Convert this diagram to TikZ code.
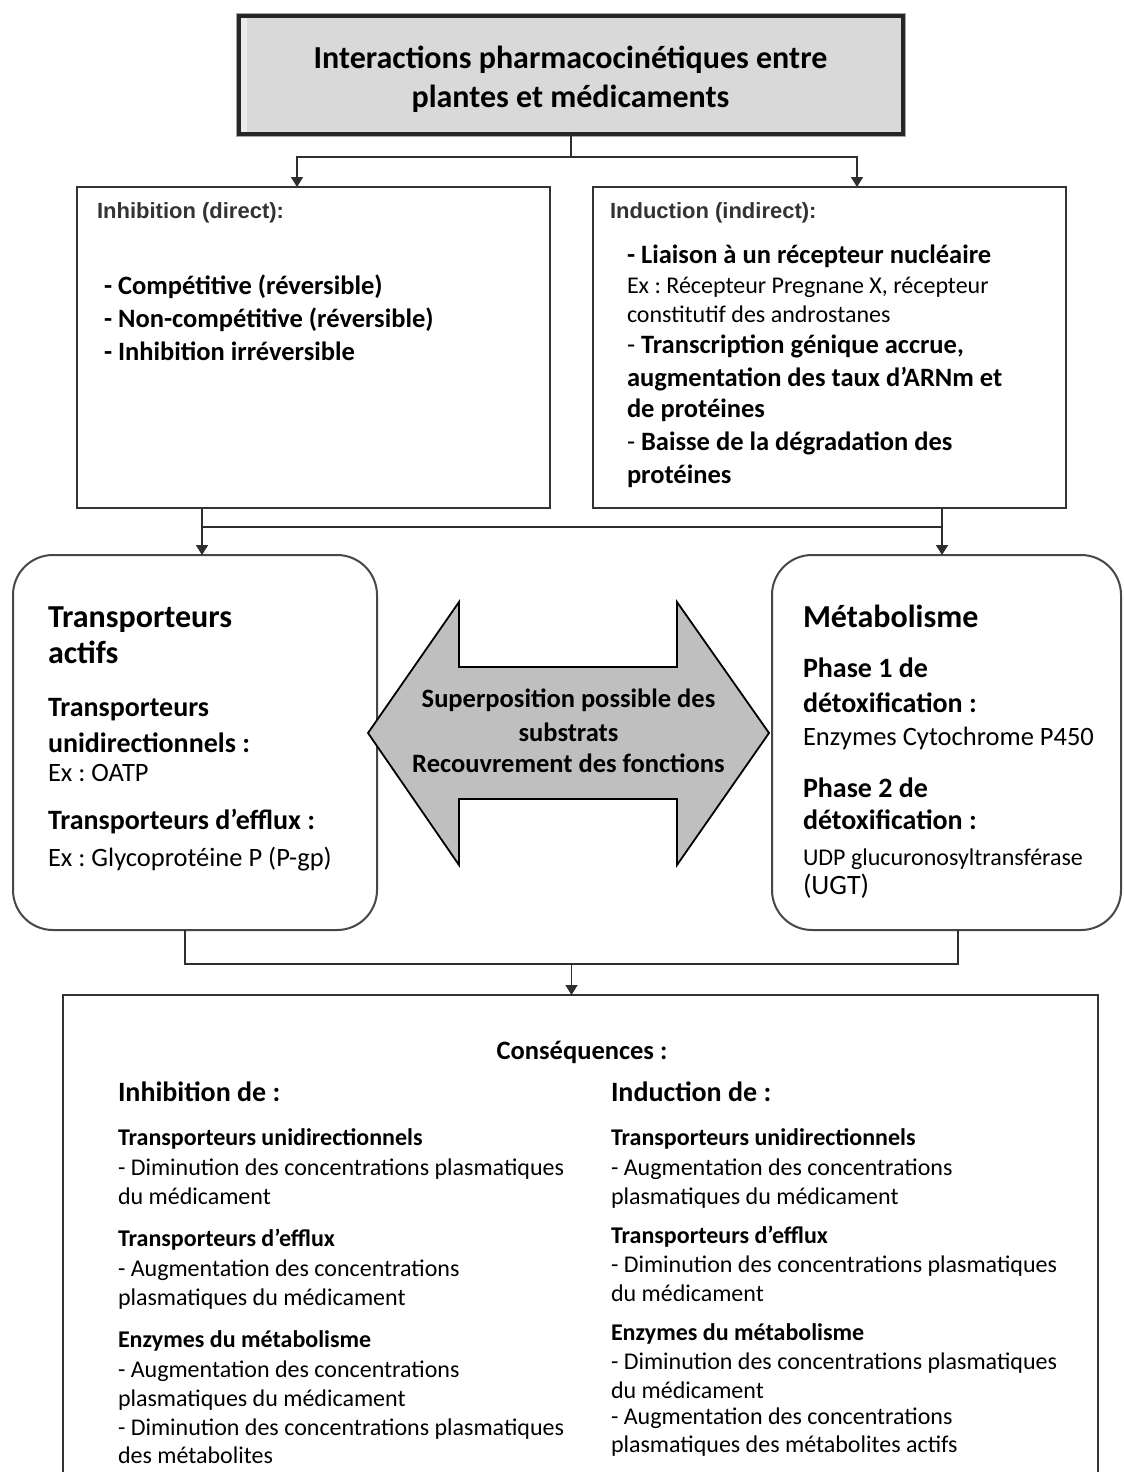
\documentclass[tikz,border=0pt]{standalone}
\usepackage{fontspec}
\setmainfont{Carlito}
\newfontfamily\arialf{Liberation Sans}
\usetikzlibrary{arrows.meta}
\frenchspacing
\begin{document}
\begin{tikzpicture}[x=1pt,y=-1pt,
  every node/.style={inner sep=0pt,outer sep=0pt},
  lt/.style={anchor=base west},
  ct/.style={anchor=base},
  b32/.style={font=\fontsize{32}{36}\selectfont\bfseries},
  b28/.style={font=\fontsize{28}{32}\selectfont\bfseries},
  b26/.style={font=\fontsize{26.5}{30}\selectfont\bfseries},
  b24/.style={font=\fontsize{24}{28}\selectfont\bfseries},
  r28/.style={font=\fontsize{28}{32}\selectfont},
  r26/.style={font=\fontsize{26.5}{30}\selectfont},
  r24/.style={font=\fontsize{24}{28}\selectfont},
  lab/.style={font=\arialf\fontsize{22}{25}\selectfont\bfseries,text=black!80},
  sqbox/.style={draw=black!80,line width=1.5pt,anchor=north west},
  rdbox/.style={draw=black!72,line width=2pt,rounded corners=40pt,anchor=north west},
  conn/.style={draw=black!82,line width=1.6pt},
  arr/.style={conn,-{Triangle[width=12pt,length=10pt]}}]
\useasboundingbox (0,0) rectangle (1124,1472);
\fill[white] (0,0) rectangle (1124,1472);

% title
\node[anchor=north west,minimum width=664.5pt,minimum height=117pt,fill=black!15,
      draw=black!85,line width=4pt,preaction={draw=black!35,line width=6pt}] (T) at (238.5,16.5) {};
\fill[black!8] (240.5,18.5) rectangle (247,131.5);
\node[ct,b32] (t1) at (570.5,68) {Interactions pharmacocinétiques entre};
\node[ct,b32] (t2) at (570.5,107) {plantes et médicaments};

% upper boxes
\node[sqbox,minimum width=473pt,minimum height=321pt] (inh) at (77,187) {};
\node[sqbox,minimum width=473pt,minimum height=321pt] (ind) at (593,187) {};

\coordinate (jl) at (297,157);
\coordinate (jr) at (857,157);
\draw[arr] (T.south) |- (jl) -- (jl |- inh.north);
\draw[arr] (T.south) |- (jr) -- (jr |- ind.north);

\node[lt,lab] (inhl) at (97,218) {Inhibition (direct):};
\node[lt,b26] (i1) at (104,294) {- Compétitive (réversible)};
\node[lt,b26] (i2) at (104,327) {- Non-compétitive (réversible)};
\node[lt,b26] (i3) at (104,360) {- Inhibition irréversible};

\node[lt,lab] (indl) at (610,218) {Induction (indirect):};
\node[lt,b26] (d1) at (627,263) {- Liaison à un récepteur nucléaire};
\node[lt,r24] (d2) at (627,293) {Ex : Récepteur Pregnane X, récepteur};
\node[lt,r24] (d3) at (627,322) {constitutif des androstanes};
\node[lt,r26] (d4) at (627,353) {- \textbf{Transcription génique accrue,}};
\node[lt,b26] (d5) at (627,386) {augmentation des taux d’ARNm et};
\node[lt,b26] (d6) at (627,417) {de protéines};
\node[lt,r26] (d7) at (627,450) {- \textbf{Baisse de la dégradation des}};
\node[lt,b26] (d8) at (627,483) {protéines};

% rounded boxes
\node[rdbox,minimum width=364pt,minimum height=375pt] (tra) at (13,555) {};
\node[rdbox,minimum width=349pt,minimum height=375pt] (met) at (772,555) {};

\coordinate (ml) at (202,527);
\coordinate (mr) at (942,527);
\draw[arr] (ml |- inh.south) -- (ml |- tra.north);
\draw[arr] (mr |- ind.south) -- (mr |- met.north);
\draw[conn] (ml) -- (mr);

\node[lt,b32] (a1) at (48,627) {Transporteurs};
\node[lt,b32] (a2) at (48,663) {actifs};
\node[lt,b28] (a3) at (48,716) {Transporteurs};
\node[lt,b28] (a4) at (48,752) {unidirectionnels :};
\node[lt,r26] (a5) at (48,781) {Ex : OATP};
\node[lt,b28] (a6) at (48,829) {Transporteurs d’efflux :};
\node[lt,r26] (a7) at (48,866) {Ex : Glycoprotéine P (P-gp)};

\node[lt,b32] (m1) at (803,627) {Métabolisme};
\node[lt,b28] (m2) at (803,677) {Phase 1 de};
\node[lt,b28] (m3) at (803,712) {détoxification :};
\node[lt,r26] (m4) at (803,745) {Enzymes Cytochrome P450};
\node[lt,b28] (m5) at (803,797) {Phase 2 de};
\node[lt,b28] (m6) at (803,829) {détoxification :};
\node[lt,r24] (m7) at (803,865) {UDP glucuronosyltransférase};
\node[lt,r28] (m8) at (803,894) {(UGT)};

% double arrow
\filldraw[fill=black!25,draw=black,line width=1.8pt,line join=miter]
  (368,733) -- (459,602) -- (459,667) -- (677,667) -- (677,602) -- (769,733)
  -- (677,865) -- (677,799) -- (459,799) -- (459,865) -- cycle;
\node[ct,b26] (s1) at (568.5,707) {Superposition possible des};
\node[ct,b26] (s2) at (568.5,741) {substrats};
\node[ct,b26] (s3) at (568.5,772) {Recouvrement des fonctions};

% bottom box
\node[sqbox,minimum width=1035pt,minimum height=495pt] (bot) at (63,995) {};
\coordinate (bl) at (185,964);
\coordinate (br) at (958,964);
\coordinate (bc) at (571.5,964);
\draw[conn] (bl |- tra.south) -- (bl) -- (br) -- (br |- met.south);
\draw[arr] (bc) -- (bc |- bot.north);

\node[ct,b26] (c0) at (582,1059) {Conséquences :};
\node[lt,b28] (cl0) at (118,1101) {Inhibition de :};
\node[lt,b24] (cl1) at (118,1145) {Transporteurs unidirectionnels};
\node[lt,r24] (cl2) at (118,1175) {- Diminution des concentrations plasmatiques};
\node[lt,r24] (cl3) at (118,1204) {du médicament};
\node[lt,b24] (cl4) at (118,1246) {Transporteurs d’efflux};
\node[lt,r24] (cl5) at (118,1276) {- Augmentation des concentrations};
\node[lt,r24] (cl6) at (118,1305) {plasmatiques du médicament};
\node[lt,b24] (cl7) at (118,1347) {Enzymes du métabolisme};
\node[lt,r24] (cl8) at (118,1377) {- Augmentation des concentrations};
\node[lt,r24] (cl9) at (118,1406) {plasmatiques du médicament};
\node[lt,r24] (cl10) at (118,1435) {- Diminution des concentrations plasmatiques};
\node[lt,r24] (cl11) at (118,1463) {des métabolites};

\node[lt,b28] (cr0) at (611,1101) {Induction de :};
\node[lt,b24] (cr1) at (611,1145) {Transporteurs unidirectionnels};
\node[lt,r24] (cr2) at (611,1175) {- Augmentation des concentrations};
\node[lt,r24] (cr3) at (611,1204) {plasmatiques du médicament};
\node[lt,b24] (cr4) at (611,1243) {Transporteurs d’efflux};
\node[lt,r24] (cr5) at (611,1272) {- Diminution des concentrations plasmatiques};
\node[lt,r24] (cr6) at (611,1301) {du médicament};
\node[lt,b24] (cr7) at (611,1340) {Enzymes du métabolisme};
\node[lt,r24] (cr8) at (611,1369) {- Diminution des concentrations plasmatiques};
\node[lt,r24] (cr9) at (611,1398) {du médicament};
\node[lt,r24] (cr10) at (611,1424) {- Augmentation des concentrations};
\node[lt,r24] (cr11) at (611,1452) {plasmatiques des métabolites actifs};
\end{tikzpicture}
\end{document}
